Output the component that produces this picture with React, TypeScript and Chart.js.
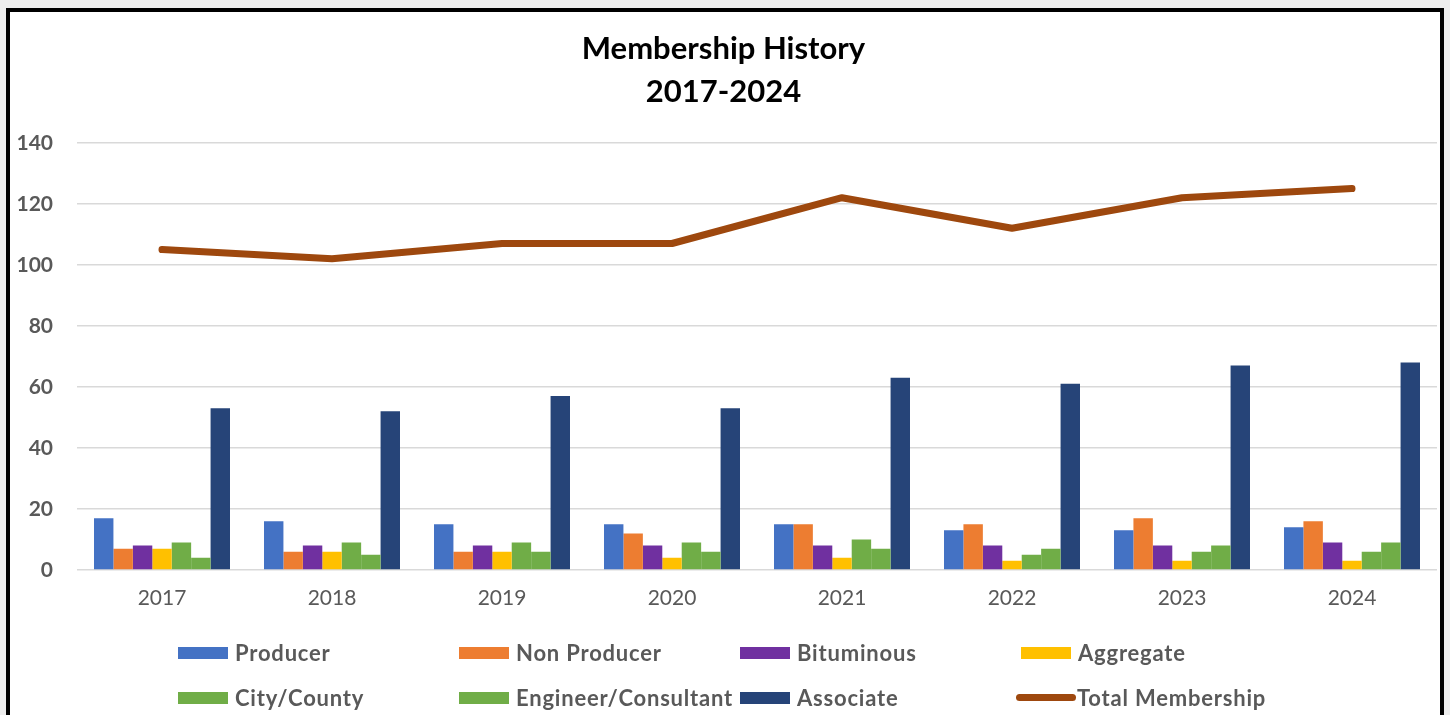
import React, { useEffect, useRef } from "react";
import { Chart, registerables } from "chart.js";

Chart.register(...registerables);

const years = ["2017", "2018", "2019", "2020", "2021", "2022", "2023", "2024"];
const producer = [17, 16, 15, 15, 15, 13, 13, 14];
const nonProducer = [7, 6, 6, 12, 15, 15, 17, 16];
const bituminous = [8, 8, 8, 8, 8, 8, 8, 9];
const aggregate = [7, 6, 6, 4, 4, 3, 3, 3];
const cityCounty = [9, 9, 9, 9, 10, 5, 6, 6];
const engineerConsultant = [4, 5, 6, 6, 7, 7, 8, 9];
const associate = [53, 52, 57, 53, 63, 61, 67, 68];
const totalMembership = [105, 102, 107, 107, 122, 112, 122, 125];

const barLabels = ["Producer", "Non Producer", "Bituminous", "Aggregate", "City/County", "Engineer/Consultant", "Associate"];
const barColors = ["#4472C4", "#ED7D31", "#7030A0", "#FFC000", "#70AD47", "#70AD47", "#264478"];
const barSeries = [producer, nonProducer, bituminous, aggregate, cityCounty, engineerConsultant, associate];
const lineLabel = "Total Membership";
const lineColor = "#9E480E";

const titleLines = ["Membership History", "2017-2024"];
const yMin = 0;
const yMax = 140;
const yStep = 20;

const FONT = "Lato, 'Open Sans', sans-serif";
const GRAY = "#595959";

export default function App() {
  const canvasRef = useRef<HTMLCanvasElement | null>(null);

  useEffect(() => {
    if (!canvasRef.current) return;
    const datasets: any[] = barSeries.map((d, i) => ({
      type: "bar",
      label: barLabels[i],
      data: d,
      backgroundColor: barColors[i],
      borderWidth: 0,
      barPercentage: 1,
      categoryPercentage: 0.8,
      order: 1,
    }));
    datasets.push({
      type: "line",
      label: lineLabel,
      data: totalMembership,
      borderColor: lineColor,
      backgroundColor: lineColor,
      borderWidth: 7,
      pointRadius: 0,
      tension: 0,
      borderCapStyle: "round",
      borderJoinStyle: "round",
      order: 0,
    });
    const chart = new Chart(canvasRef.current, {
      type: "bar",
      data: { labels: years, datasets },
      options: {
        animation: false,
        responsive: false,
        layout: { padding: { left: 0, right: 3, top: 0, bottom: 0 } },
        plugins: {
          legend: { display: false },
          tooltip: { enabled: false },
          title: {
            display: true,
            text: titleLines,
            color: "#000000",
            font: { family: FONT, size: 31, weight: "bold", lineHeight: 1.4 },
            padding: { top: 15, bottom: 29 },
          },
        },
        scales: {
          x: {
            grid: { display: false, drawTicks: false },
            border: { display: false },
            ticks: { color: GRAY, font: { family: FONT, size: 21 }, padding: 16 },
            afterFit: (s: any) => {
              s.height = 145;
            },
          },
          y: {
            min: yMin,
            max: yMax,
            grid: { color: "#d9d9d9", lineWidth: 1.5, drawTicks: false },
            border: { display: false },
            ticks: {
              stepSize: yStep,
              color: GRAY,
              font: { family: FONT, size: 21, weight: "bold" },
              padding: 24,
            },
            afterFit: (s: any) => {
              s.width = 67;
            },
          },
        },
      },
    });
    return () => chart.destroy();
  }, []);

  const legendItems = [
    ...barLabels.map((l, i) => ({ label: l, color: barColors[i], line: false })),
    { label: lineLabel, color: lineColor, line: true },
  ];

  return (
    <div style={{ position: "fixed", left: 0, top: 0, width: 1450, height: 715, background: "#eeeeee", overflow: "hidden" }}>
      <div
        style={{
          position: "absolute",
          left: 6,
          top: 8,
          width: 1430,
          height: 720,
          borderLeft: "4px solid #000",
          borderRight: "4px solid #000",
          borderTop: "4px solid #000",
          background: "#ffffff",
        }}
      >
        <canvas ref={canvasRef} width={1430} height={703} style={{ display: "block" }} />
      </div>
      <div
        style={{
          position: "absolute",
          left: 178,
          top: 630,
          display: "grid",
          gridTemplateColumns: "281px 281px 281px 281px",
          gridAutoRows: "45px",
          fontFamily: FONT,
          fontWeight: "bold",
          fontSize: 22,
          letterSpacing: "0.8px",
          color: GRAY,
        }}
      >
        {legendItems.map((it) => (
          <div key={it.label} style={{ display: "flex", alignItems: "center", whiteSpace: "nowrap" }}>
            {it.line ? (
              <span
                style={{
                  display: "inline-block",
                  width: 60,
                  height: 7,
                  borderRadius: 4,
                  background: it.color,
                  marginLeft: -5,
                  marginRight: 1,
                }}
              />
            ) : (
              <span style={{ display: "inline-block", width: 50, height: 12, background: it.color, marginRight: 7 }} />
            )}
            <span>{it.label}</span>
          </div>
        ))}
      </div>
    </div>
  );
}
